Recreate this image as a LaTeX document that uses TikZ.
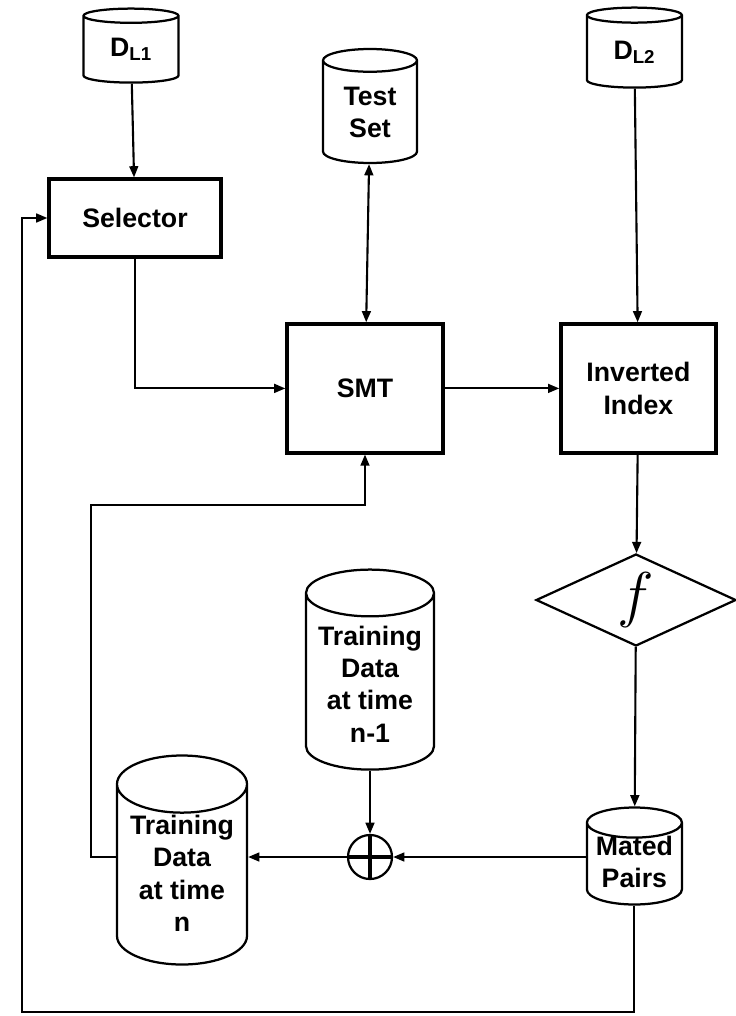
\RequirePackage{fix-cm}
\documentclass[tikz,border=0pt]{standalone}
\usepackage{fontspec}
\setmainfont{Liberation Sans}
\usetikzlibrary{positioning, calc, shapes.geometric, arrows.meta}

\tikzset{
    txt/.style={font=\fontsize{19}{23}\selectfont\bfseries, align=center},
    box/.style={txt, draw, line width=2.3pt, inner sep=0pt},
    db/.style={txt, draw, line width=1.6pt, cylinder, shape border rotate=90, inner sep=0pt, anchor=shape center},
    arrowtip/.tip={Triangle[length=2.8mm, width=2.2mm]},
    conn/.style={line width=1.5pt, -arrowtip}
}

\begin{document}
\begin{tikzpicture}

\useasboundingbox (0,0) rectangle (18.375,-25.4);

% data sources
\node[db, minimum width=2.375cm, minimum height=1.85cm, aspect=0.34] (dl1) at (3.275,-1.14) {D\textsubscript{L1}};
\node[db, minimum width=2.35cm, minimum height=2.85cm, aspect=0.43] (testset) at (9.25,-2.65) {Test\\Set};
\node[db, minimum width=2.375cm, minimum height=2.0cm, aspect=0.36] (dl2) at (15.86,-1.19) {D\textsubscript{L2}};

% processing blocks
\node[box, minimum width=4.3cm, minimum height=1.95cm] (selector) at (3.375,-5.45) {Selector};
\node[box, minimum width=3.9cm, minimum height=3.225cm] (smt) at (9.125,-9.71) {SMT};
\node[box, minimum width=3.875cm, minimum height=3.225cm] (invidx) at (15.96,-9.71) {Inverted\\Index};
\node[draw, diamond, line width=1.6pt, inner sep=0pt, minimum width=5cm, minimum height=2.3cm] (f) at (15.9,-15.0) {\fontsize{44}{48}\selectfont$f$};

% training data (labels set apart from the tall cylinders)
\node[db, minimum width=3.2cm, minimum height=5.0cm, aspect=0.45] (tdprev) at (9.25,-16.74) {\phantom{Training}};
\node[txt] (tdprevtxt) at (9.25,-17.1) {Training\\Data\\at time\\n-1};
\node[db, minimum width=3.25cm, minimum height=5.225cm, aspect=0.55] (tdnow) at (4.55,-21.5) {\phantom{Training}};
\node[txt] (tdnowtxt) at (4.55,-21.83) {Training\\Data\\at time\\n};
\node[db, minimum width=2.375cm, minimum height=2.425cm, aspect=0.39] (mated) at (15.86,-21.4) {\phantom{Mated}};
\node[txt] (matedtxt) at (15.86,-21.55) {Mated\\Pairs};
\node[draw, circle, line width=1.6pt, minimum size=1.1cm, inner sep=0pt] (sum) at (9.25,-21.425) {};
\draw[line width=2.4pt] (sum.north) -- (sum.south) (sum.west) -- (sum.east);

\coordinate (loopA) at (2.275,-12.625);
\coordinate (fbA) at (0.55,-25.3);

% connectors
\draw[conn] (dl1) -- (selector);
\draw[conn] (selector.south) |- (smt.west);
\draw[conn, arrowtip-arrowtip] (testset) -- (smt);
\draw[conn] (dl2) -- (invidx);
\draw[conn] (smt) -- (invidx);
\draw[conn] (invidx) -- (f);
\draw[conn] (f) -- (mated);
\draw[conn] (tdprev) -- (sum);
\draw[conn] (sum -| mated.west) -- (sum);
\draw[conn] (sum) -- (sum -| tdnow.east);
\draw[conn] (tdnow.west |- sum) -| (loopA) -| (smt.south);
\draw[conn] (mated.south) |- (fbA) |- (selector.west);

\end{tikzpicture}
\end{document}
